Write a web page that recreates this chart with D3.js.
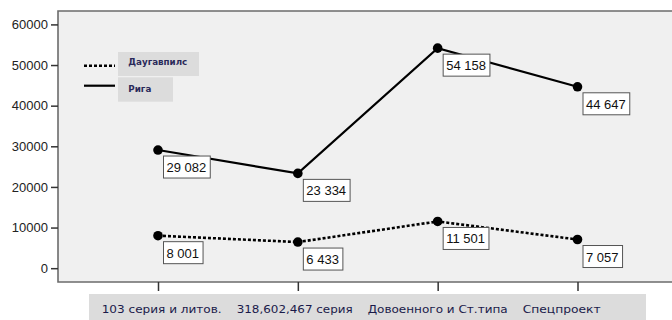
<!DOCTYPE html>
<html><head><meta charset="utf-8">
<script src="https://cdn.jsdelivr.net/npm/d3@7"></script>
<style>body{margin:0;background:#fff}svg{display:block}</style>
</head><body>
<svg id="c" width="672" height="320"></svg>
<script>
const categories = ["103 серия и литов.", "318,602,467 серия", "Довоенного и Ст.типа", "Спецпроект"];
const daugavpils = [8001, 6433, 11501, 7057];
const riga = [29082, 23334, 54158, 44647];
const yTicks = [0, 10000, 20000, 30000, 40000, 50000, 60000];
const seriesNames = ["Даугавпилс", "Рига"];

(function(){
const svg = d3.select("#c");
const W = 672, H = 320;
const pL = 58, pT = 11, pB = 282;

const x = d3.scalePoint().domain(categories).range([158, 577.5]);
const y = d3.scaleLinear().domain([-3400, 63300]).range([pB, pT]);

// plot background
svg.append("rect").attr("x", pL).attr("y", pT).attr("width", W - pL + 2).attr("height", pB - pT).attr("fill", "#f0f0f0");

// frame lines
const frame = svg.append("g").attr("stroke", "#6b6b6b").attr("stroke-width", 1.6).attr("fill", "none");
frame.append("path").attr("d", `M${W+2},${pT}H${pL}V${pB}H${W+2}`);

// y axis
const ya = svg.append("g").attr("transform", `translate(${pL},0)`)
  .call(d3.axisLeft(y).tickValues(yTicks).tickSize(7).tickPadding(3).tickFormat(d3.format("d")));
ya.select(".domain").remove();
ya.selectAll(".tick line").attr("stroke", "#333").attr("stroke-width", 1.5);
ya.selectAll(".tick text").attr("font-family", "Liberation Sans, Arial, sans-serif").attr("font-size", 13).attr("fill", "#222");

// x axis ticks
const xa = svg.append("g").attr("transform", `translate(0,${pB})`)
  .call(d3.axisBottom(x).tickSize(9).tickFormat(""));
xa.select(".domain").remove();
xa.selectAll(".tick line").attr("stroke", "#333").attr("stroke-width", 1.5);

// x label band: labels laid out one after another
svg.append("rect").attr("x", 89).attr("y", 294).attr("width", 557).attr("height", 26).attr("fill", "#dcdcdc");
const labW = [120, 116, 140, 78];
let cx = 101.7;
svg.append("g").selectAll("text").data(categories).join("text")
  .attr("y", 312.5)
  .attr("font-family", "DejaVu Sans, sans-serif")
  .attr("font-size", 11)
  .attr("fill", "#1a1a4a")
  .attr("lengthAdjust", "spacingAndGlyphs")
  .attr("textLength", (d, i) => labW[i])
  .text(d => d)
  .each(function(d, i) {
    d3.select(this).attr("x", cx);
    cx += labW[i] + 15;
  });

// lines
const rows = categories.map((c, i) => ({c, d: daugavpils[i], r: riga[i]}));
const line = key => d3.line().x(d => x(d.c)).y(d => y(d[key]));
svg.append("path").datum(rows).attr("d", line("r")).attr("fill", "none").attr("stroke", "#000").attr("stroke-width", 2.2);
svg.append("path").datum(rows).attr("d", line("d")).attr("fill", "none").attr("stroke", "#000").attr("stroke-width", 2.6).attr("stroke-dasharray", "3,2");

// markers
["d", "r"].forEach(k => {
  svg.append("g").selectAll("circle").data(rows).join("circle")
    .attr("cx", d => x(d.c)).attr("cy", d => y(d[k])).attr("r", 4.8).attr("fill", "#000");
});

// labels
const fmt = v => d3.format(",")(v).replace(/,/g, " ");
["d", "r"].forEach(k => {
  const g = svg.append("g").selectAll("g").data(rows).join("g")
    .attr("transform", d => `translate(${x(d.c) + 5},${y(d[k]) + 5.5})`);
  g.append("text").attr("x", 3.5).attr("y", 16.5)
    .attr("font-family", "Liberation Sans, Arial, sans-serif").attr("font-size", 13).attr("fill", "#111")
    .text(d => fmt(d[k]));
  g.each(function() {
    const tt = d3.select(this).select("text");
    const w = tt.node().getComputedTextLength();
    d3.select(this).insert("rect", "text").attr("x", 0.5).attr("y", 0.5).attr("width", w + 7).attr("height", 22)
      .attr("fill", "#fff").attr("stroke", "#555").attr("stroke-width", 1);
  });
});

// legend
const lg = svg.append("g");
lg.append("rect").attr("x", 118).attr("y", 52).attr("width", 81).attr("height", 24).attr("fill", "#dcdcdc");
lg.append("rect").attr("x", 118).attr("y", 77.3).attr("width", 55).attr("height", 24.4).attr("fill", "#dcdcdc");
lg.append("line").attr("x1", 84).attr("x2", 115).attr("y1", 65.7).attr("y2", 65.7).attr("stroke", "#000").attr("stroke-width", 2.4).attr("stroke-dasharray", "3,2");
lg.append("line").attr("x1", 84).attr("x2", 115).attr("y1", 85.7).attr("y2", 85.7).attr("stroke", "#000").attr("stroke-width", 2.2);
const legW = [59, 23];
lg.selectAll("text").data(seriesNames).join("text")
  .attr("x", 128.3).attr("y", (d, i) => i === 0 ? 65.3 : 92.3)
  .attr("font-family", "DejaVu Sans, sans-serif").attr("font-size", 8).attr("font-weight", "bold")
  .attr("lengthAdjust", "spacingAndGlyphs").attr("textLength", (d, i) => legW[i])
  .attr("fill", "#2a2a5a").text(d => d);
})();
</script>
</body></html>
